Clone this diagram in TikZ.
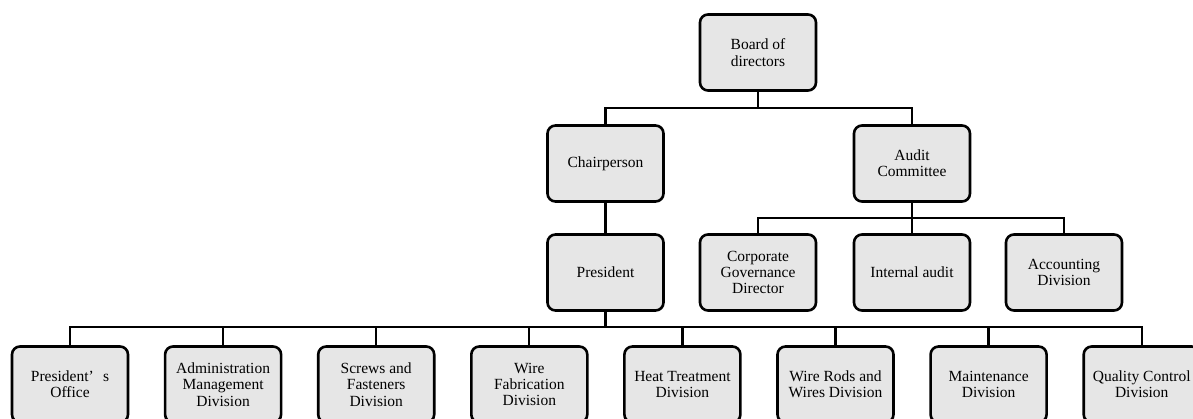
\documentclass[tikz,border=0pt]{standalone}
\usepackage{fontspec}
\setmainfont{Liberation Serif}
\begin{document}
\begin{tikzpicture}[x=1pt,y=-1pt,
  unit/.style={draw=black, fill=boxgray, line width=2.6pt, rounded corners=8pt,
    minimum width=116pt, minimum height=76pt, inner sep=2pt, align=center,
    font=\fontsize{15.5}{16.3}\selectfont},
  link/.style={draw=black, line width=2.3pt}]
\definecolor{boxgray}{HTML}{E6E6E6}
\useasboundingbox (0,0) rectangle (1193,419);

% top levels
\node[unit] (board) at (758,52.5) {Board of\\directors};
\node[unit] (chair) at (605.5,163.5) {Chairperson};
\node[unit] (audit) at (912,163.5) {Audit\\Committee};
\node[unit] (pres)  at (605.5,272.5) {President};

% units under the audit committee
\node[unit] (gov)  at (758,272.5)  {Corporate\\Governance\\Director};
\node[unit] (ia)   at (912,272.5)  {Internal audit};
\node[unit] (acc)  at (1064,272.5) {Accounting\\Division};

% divisions under the president
\node[unit] (d1) at (70,384.5)    {President’\hspace{0.6em}s\\Office};
\node[unit] (d2) at (223.1,384.5) {Administration\\Management\\Division};
\node[unit] (d3) at (376.2,384.5) {Screws and\\Fasteners\\Division};
\node[unit] (d4) at (529.3,384.5) {Wire\\Fabrication\\Division};
\node[unit] (d5) at (682.4,384.5) {Heat Treatment\\Division};
\node[unit] (d6) at (835.5,384.5) {Wire Rods and\\Wires Division};
\node[unit] (d7) at (988.6,384.5) {Maintenance\\Division};
\node[unit] (d8) at (1141.7,384.5) {Quality Control\\Division};

% bus lines
\coordinate (busA) at (0,108);
\coordinate (busB) at (0,218);
\coordinate (busC) at (0,327);

% board to chairperson / audit committee
\draw[link] (board.south) -- (board.south |- busA);
\draw[link] (chair.north) -- (chair.north |- busA) -- (audit.north |- busA) -- (audit.north);

% chairperson to president
\draw[link] (chair.south) -- (pres.north);

% audit committee to its units
\draw[link] (audit.south) -- (ia.north);
\draw[link] (gov.north) -- (gov.north |- busB) -- (acc.north |- busB) -- (acc.north);

% president to divisions
\draw[link] (pres.south) -- (pres.south |- busC);
\draw[link] (d1.north) -- (d1.north |- busC) -- (d8.north |- busC) -- (d8.north);
\foreach \d in {d2,d3,d4,d5,d6,d7}
  \draw[link] (\d.north) -- (\d.north |- busC);
\end{tikzpicture}
\end{document}
